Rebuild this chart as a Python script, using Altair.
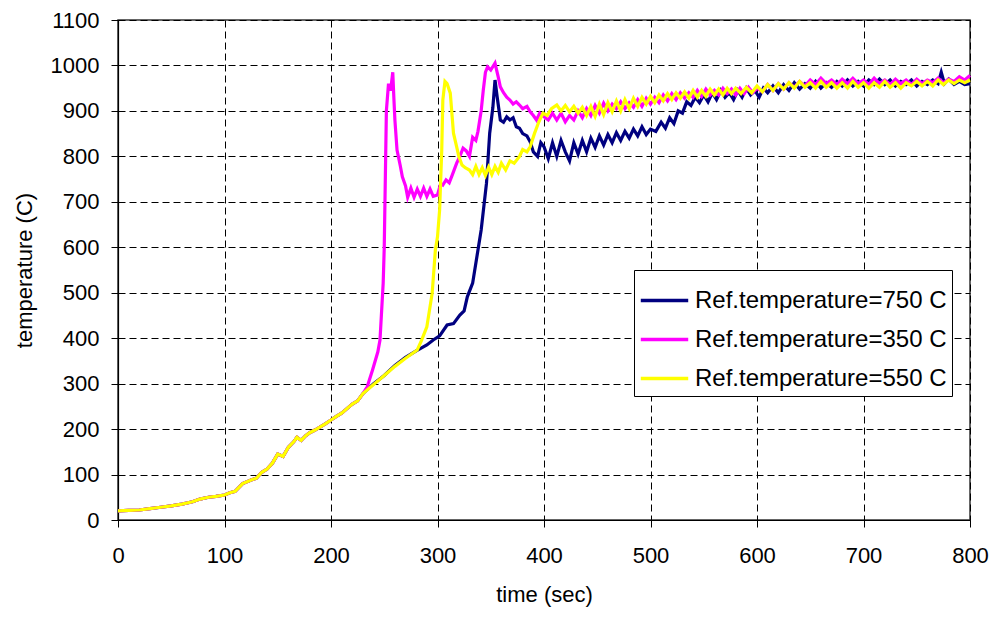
import altair as alt
import pandas as pd

series_names = ["Ref.temperature=750 C", "Ref.temperature=350 C", "Ref.temperature=550 C"]
series_colors = ["#000080", "#FF00FF", "#FFFF00"]

common_t = [0, 10, 20, 30, 40, 50, 60, 70, 77, 85, 92, 100, 105, 110, 117, 125, 130, 135, 140, 145, 150, 155, 160, 165, 168, 172, 176, 180, 185, 190, 195, 200, 205, 210, 215, 220, 225, 230]
common_v = [20, 21, 22, 25, 28, 31, 35, 40, 46, 50, 52, 55, 60, 63, 80, 88, 92, 105, 112, 125, 145, 140, 160, 172, 182, 175, 185, 192, 198, 205, 212, 220, 228, 235, 245, 255, 262, 278]

navy_t = [240, 250, 260, 270, 280, 290, 296, 302, 309, 315, 321, 325, 328, 333, 338, 341, 346, 349, 352, 354, 356, 359, 362, 365, 368, 371, 374, 377, 380, 384, 387, 390, 394, 397, 400, 404, 408, 412, 416, 420, 424, 428, 432, 436, 440, 444, 448, 452, 456, 460, 464, 468, 472, 476, 480, 484, 488, 492, 496, 500, 505, 510, 514, 518, 522, 526, 530, 534, 538, 542, 546, 550, 554, 558, 562, 566, 570, 574, 578, 582, 586, 590, 594, 598, 602, 606, 610, 615, 620, 625, 630, 635, 640, 645, 650, 655, 660, 665, 670, 675, 680, 685, 690, 695, 700, 705, 710, 715, 720, 725, 730, 735, 740, 745, 750, 755, 760, 765, 770, 773, 776, 780, 785, 790, 795, 800]
navy_v = [300, 318, 340, 358, 372, 385, 396, 405, 429, 432, 451, 460, 491, 521, 594, 638, 741, 851, 908, 968, 931, 880, 875, 887, 880, 885, 865, 862, 850, 845, 832, 810, 800, 830, 821, 795, 830, 800, 835, 810, 790, 830, 805, 835, 810, 840, 820, 845, 825, 848, 830, 852, 835, 855, 840, 860, 845, 865, 848, 860, 855, 875, 862, 885, 872, 900, 895, 920, 912, 930, 918, 935, 920, 940, 925, 945, 930, 940, 925, 945, 930, 950, 935, 945, 930, 950, 940, 955, 940, 958, 945, 962, 948, 960, 950, 965, 950, 962, 952, 965, 955, 968, 955, 965, 955, 968, 958, 970, 958, 968, 955, 965, 958, 968, 955, 965, 958, 968, 960, 985, 960, 970, 958, 965, 958, 960]

mag_t = [234, 239, 244, 246, 249, 250, 251, 252, 254, 256, 258, 259, 260, 262, 265, 267, 270, 272, 275, 278, 281, 284, 287, 290, 293, 296, 300, 303, 305, 308, 311, 314, 318, 321, 324, 327, 330, 333, 336, 338, 341, 343, 345, 347, 350, 354, 357, 359, 362, 365, 368, 371, 374, 377, 380, 384, 387, 390, 393, 396, 400, 404, 408, 412, 416, 420, 424, 428, 432, 436, 440, 444, 448, 452, 456, 460, 464, 468, 472, 476, 480, 484, 488, 492, 496, 500, 504, 508, 512, 516, 520, 524, 528, 532, 536, 540, 544, 548, 552, 556, 560, 564, 568, 572, 576, 580, 584, 588, 592, 596, 600, 605, 610, 615, 620, 625, 630, 635, 640, 645, 650, 655, 660, 665, 670, 675, 680, 685, 690, 695, 700, 705, 710, 715, 720, 725, 730, 735, 740, 745, 750, 755, 760, 765, 770, 775, 780, 785, 790, 795, 800]
mag_v = [293, 330, 370, 396, 521, 600, 750, 900, 960, 945, 985, 930, 880, 814, 780, 755, 735, 710, 730, 710, 728, 712, 730, 712, 728, 712, 715, 740, 737, 748, 742, 760, 785, 800, 818, 812, 800, 842, 835, 855, 900, 946, 985, 997, 990, 1005, 975, 953, 940, 930, 924, 915, 920, 913, 905, 910, 898, 890, 880, 895, 887, 880, 895, 880, 895, 876, 890, 880, 900, 885, 905, 890, 912, 895, 917, 900, 915, 905, 920, 905, 918, 908, 925, 910, 928, 915, 930, 918, 935, 922, 938, 925, 940, 928, 940, 930, 945, 932, 948, 935, 945, 935, 950, 938, 948, 935, 950, 938, 952, 940, 950, 942, 958, 945, 960, 948, 962, 952, 965, 955, 968, 958, 972, 960, 968, 958, 970, 960, 972, 960, 968, 958, 972, 960, 968, 958, 970, 960, 968, 958, 970, 960, 968, 962, 972, 962, 970, 965, 975, 968, 978]

yel_t = [240, 250, 260, 270, 281, 285, 290, 295, 298, 300, 302, 304, 305, 307, 309, 312, 315, 318, 320, 323, 326, 330, 333, 336, 339, 342, 345, 348, 351, 354, 357, 360, 364, 368, 372, 377, 380, 384, 387, 391, 395, 399, 403, 407, 412, 416, 420, 424, 428, 432, 436, 440, 444, 448, 452, 456, 460, 464, 468, 472, 476, 480, 484, 488, 492, 496, 500, 504, 508, 512, 516, 520, 524, 528, 532, 536, 540, 544, 548, 552, 556, 560, 564, 568, 572, 576, 580, 585, 590, 595, 600, 605, 610, 615, 620, 625, 630, 635, 640, 645, 650, 655, 660, 665, 670, 675, 680, 685, 690, 695, 700, 705, 710, 715, 720, 725, 730, 735, 740, 745, 750, 755, 760, 765, 770, 775, 780, 785, 790, 795, 800]
yel_v = [298, 318, 338, 356, 374, 395, 425, 499, 594, 623, 682, 814, 924, 965, 960, 939, 851, 821, 800, 781, 775, 770, 760, 778, 760, 775, 758, 776, 760, 778, 765, 785, 770, 790, 785, 800, 815, 810, 821, 850, 875, 895, 890, 905, 913, 900, 912, 898, 910, 895, 908, 890, 910, 888, 915, 892, 918, 898, 922, 900, 925, 905, 928, 910, 930, 915, 932, 918, 935, 922, 938, 925, 940, 928, 942, 928, 945, 930, 945, 932, 948, 935, 948, 935, 950, 938, 950, 938, 952, 940, 955, 942, 958, 945, 960, 948, 962, 950, 965, 952, 962, 950, 965, 952, 962, 950, 962, 950, 965, 952, 962, 950, 962, 952, 965, 952, 962, 950, 962, 955, 965, 955, 965, 955, 968, 958, 968, 960, 968, 962, 968]

rows = []
for name, ts, vs in [
    (series_names[0], common_t + navy_t, common_v + navy_v),
    (series_names[1], common_t + mag_t, common_v + mag_v),
    (series_names[2], common_t + yel_t, common_v + yel_v),
]:
    for i, (t, v) in enumerate(zip(ts, vs)):
        rows.append({"series": name, "time": t, "temp": v, "idx": i})
df = pd.DataFrame(rows)

font = "Liberation Sans"

chart = alt.Chart(df).mark_line(strokeWidth=3.2, interpolate="linear").encode(
    x=alt.X("time:Q", scale=alt.Scale(domain=[0, 800], nice=False),
            axis=alt.Axis(title="time (sec)", values=list(range(0, 801, 100)), format="d",
                          labelFlush=False)),
    y=alt.Y("temp:Q", scale=alt.Scale(domain=[0, 1100], nice=False),
            axis=alt.Axis(title="temperature (C)", values=list(range(0, 1101, 100)), format="d")),
    color=alt.Color("series:N",
                    scale=alt.Scale(domain=series_names, range=series_colors),
                    legend=alt.Legend(title=None, orient="none", legendX=516, legendY=250,
                                      symbolType="stroke", symbolStrokeWidth=3.5, symbolSize=2250,
                                      labelFontSize=24, labelFont=font, labelColor="#000",
                                      rowPadding=1, padding=5, strokeColor="#000",
                                      fillColor="#fff", labelLimit=400, labelOffset=5)),
    order=alt.Order("idx:Q"),
).properties(
    width=852, height=500,
    autosize=alt.AutoSizeParams(type="none"),
    padding={"left": 118, "top": 20, "right": 24, "bottom": 97},
    background="#ffffff",
).configure_axis(
    grid=True, gridColor="#000", gridDash=[7, 4], gridWidth=1, gridOpacity=1,
    domainColor="#000", domainWidth=1.2, tickColor="#000", tickSize=7,
    labelFont=font, labelFontSize=22, labelColor="#000", titleFont=font,
    titleFontSize=22, titleFontWeight="normal", titleColor="#000",
).configure_axisX(
    labelPadding=18, titlePadding=18,
).configure_axisY(
    labelPadding=12, titlePadding=14,
).configure_view(
    stroke="#333", strokeWidth=1.5,
)

chart.save("out.html", embed_options={"renderer": "svg", "actions": False})
